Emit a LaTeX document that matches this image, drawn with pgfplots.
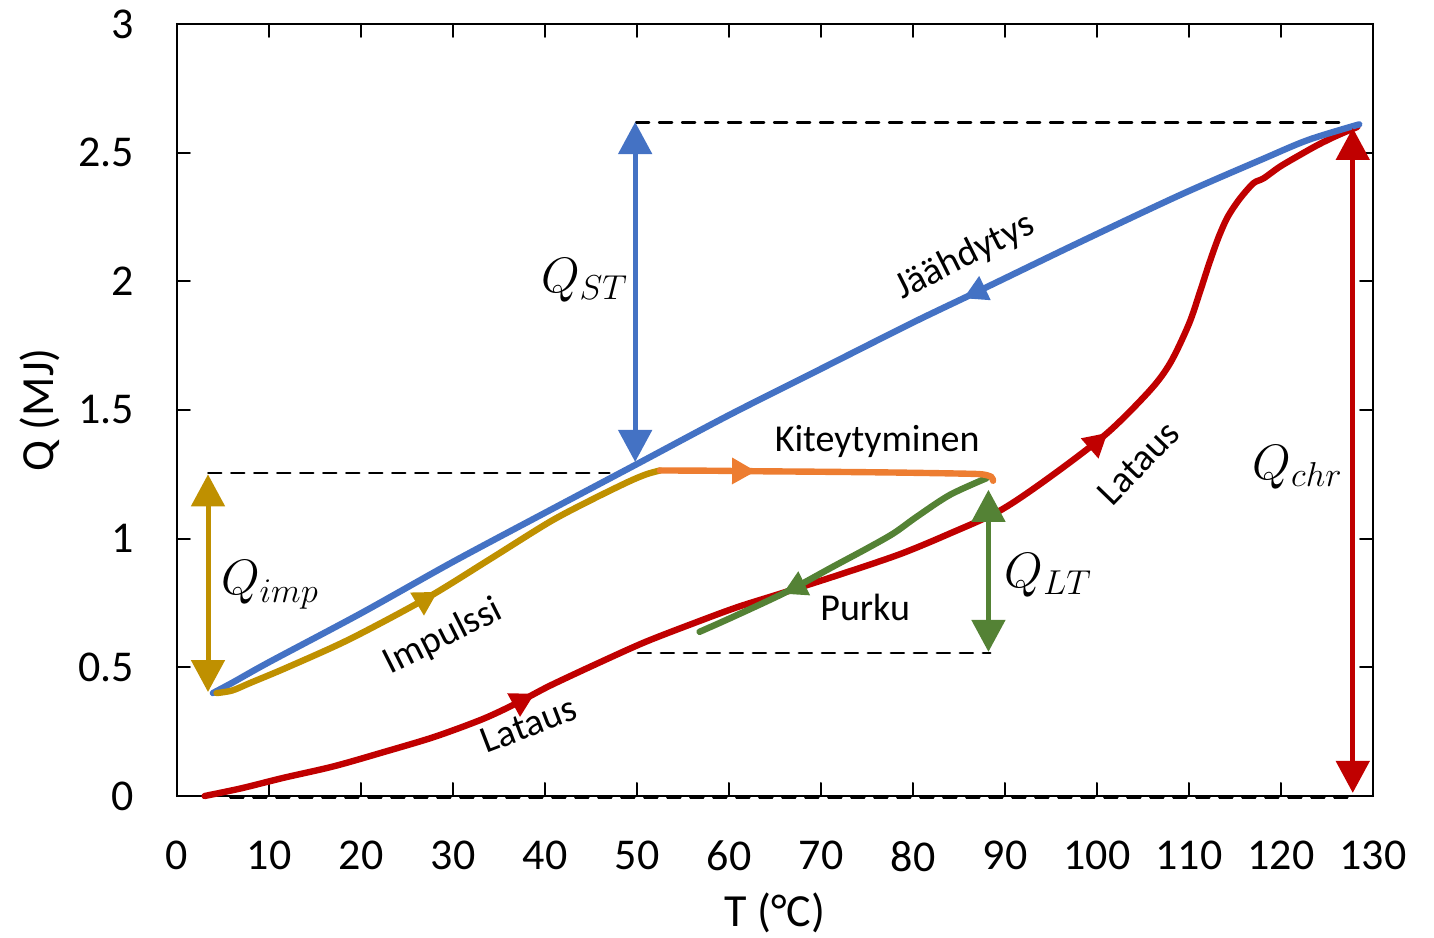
\documentclass[border=0pt]{standalone}
\usepackage{pgfplots}
\pgfplotsset{compat=1.18}
\usepackage{fontspec}
\setmainfont{Carlito}
\usetikzlibrary{arrows.meta,decorations.markings}
\definecolor{cblue}{HTML}{4472C4}
\definecolor{cred}{HTML}{C00000}
\definecolor{cgold}{HTML}{BF9000}
\definecolor{corange}{HTML}{ED7D31}
\definecolor{cgreen}{HTML}{548235}

\pgfplotstableread{
T Q
128.5 2.61
123 2.55
118 2.475
109 2.335
98 2.15
87 1.96
80 1.84
70 1.66
60 1.48
50 1.29
40.5 1.11
30 0.91
20 0.71
10 0.52
6 0.44
3.9 0.40
}\blue
\pgfplotstableread{
T Q
3 0
7 0.03
11.5 0.07
17 0.115
22.4 0.17
28 0.23
33.3 0.30
37 0.362
40.5 0.428
46 0.52
51 0.60
56.8 0.68
61 0.735
65.9 0.79
72 0.86
78.6 0.94
84 1.02
89.5 1.11
94.9 1.24
101.1 1.41
105.8 1.578
108 1.685
110 1.835
111.2 1.96
112.2 2.07
113.2 2.17
114.2 2.25
115.5 2.32
117.0 2.381
118.1 2.40
119.9 2.446
122 2.49
124 2.53
126 2.565
128.3 2.60
}\red
\pgfplotstableread{
T Q
4.3 0.40
6 0.41
8 0.44
12 0.50
18.8 0.61
27.2 0.77
34 0.92
40.5 1.065
45 1.15
49 1.22
51 1.25
52.5 1.265
}\gold
\pgfplotstableread{
T Q
52.5 1.265
58 1.264
63 1.262
70 1.260
78 1.257
85 1.253
87.5 1.250
88.5 1.240
88.7 1.225
}\orange
\pgfplotstableread{
T Q
88.0 1.235
84.0 1.170
80.4 1.085
77.9 1.021
75.0 0.962
71.3 0.891
66.3 0.794
60.5 0.697
56.8 0.638
}\green

\tikzset{
  sa/.tip={Triangle[width=12.5pt,length=12pt]},
  bt/.tip={Triangle[width=16.5pt,length=16pt]},
  bigtips/.style={line width=2.5pt, bt-bt},
  curve/.style={line width=3.2pt, smooth},
  annot/.style={font=\fontsize{19}{22}\selectfont, inner sep=0pt},
  qlab/.style={font=\fontsize{24}{28}\selectfont, inner sep=0pt},
  dashln/.style={black, line width=1.25pt, dash pattern=on 6.5pt off 5pt},
}

\begin{document}
\begin{tikzpicture}
\begin{axis}[
  scale only axis,
  width=598pt, height=386pt,
  xmin=0, xmax=130, ymin=0, ymax=3,
  xtick distance=10,
  ytick={0,0.5,1,1.5,2,2.5,3},
  tick pos=both,
  tick align=inside,
  major tick length=6.5pt,
  tick style={black, line width=1pt},
  axis line style={black, line width=1pt},
  clip=false,
  /pgf/number format/assume math mode=true,
  ticklabel style={font=\fontsize{22}{26}\selectfont},
  xticklabel style={yshift=-19pt},
  yticklabel style={xshift=-18pt},
  xlabel={T (°C)},
  ylabel={Q (MJ)},
  label style={font=\fontsize{23}{27}\selectfont},
  xlabel style={at={(axis description cs:0.5,0)}, anchor=center, yshift=-58.5pt},
  ylabel style={at={(axis description cs:0,0.5)}, anchor=center, rotate=0, yshift=68.5pt},
  line cap=round,
]
\path (rel axis cs:0,0) coordinate (ll);

% dashed guide lines
\addplot[dashln] coordinates {(49.9,2.617) (127.2,2.617)};
\addplot[dashln] coordinates {(3.4,1.255) (47,1.255)};
\addplot[dashln] coordinates {(50.1,0.556) (88.4,0.556)};
\addplot[dashln] coordinates {(5.8,-0.006) (127.8,-0.006)};

% curves
\addplot[cred, curve,
  postaction={decorate}, decoration={markings,
    mark=at position 0.249 with {\arrow{sa}},
    mark=at position 0.704 with {\arrow{sa}}}] table[x=T,y=Q] {\red};
\addplot[cgreen, curve,
  postaction={decorate}, decoration={markings,
    mark=at position 0.72 with {\arrow{sa}}}] table[x=T,y=Q] {\green};
\addplot[cblue, curve,
  postaction={decorate}, decoration={markings,
    mark=at position 0.338 with {\arrow{sa}}}] table[x=T,y=Q] {\blue};
\addplot[cgold, curve,
  postaction={decorate}, decoration={markings,
    mark=at position 0.49 with {\arrow{sa}}}] table[x=T,y=Q] {\gold};
\addplot[corange, curve,
  postaction={decorate}, decoration={markings,
    mark=at position 0.286 with {\arrow{sa}}}] table[x=T,y=Q] {\orange};

% double arrows
\addplot[cblue, bigtips] coordinates {(49.8,1.298) (49.8,2.619)};
\addplot[cgold, bigtips] coordinates {(3.37,0.404) (3.37,1.250)};
\addplot[cgreen, bigtips] coordinates {(88.2,0.560) (88.2,1.190)};
\addplot[cred, bigtips] coordinates {(127.8,0.012) (127.8,2.596)};

% labels
\node[annot, rotate=26.6] at (axis cs:85.65,2.095) {Jäähdytys};
\node[annot] at (axis cs:76.1,1.376) {Kiteytyminen};
\node[annot, rotate=26.6] at (axis cs:28.9,0.618) {Impulssi};
\node[annot] at (axis cs:74.8,0.734) {Purku};
\node[annot, rotate=21] at (axis cs:38.2,0.276) {Lataus};
\node[annot, rotate=46] at (axis cs:104.5,1.294) {Lataus};

\node[qlab] at (axis cs:44.3,2.005) {$Q_{ST}$};
\node[qlab] at (axis cs:10.1,0.82) {$Q_{imp}$};
\node[qlab] at (axis cs:94.7,0.859) {$Q_{LT}$};
\node[qlab] at (axis cs:121.8,1.279) {$Q_{chr}$};
\end{axis}
\pgfresetboundingbox
\path[use as bounding box] ([shift={(-88.5pt,-70.5pt)}]ll) rectangle ++(717pt,468.5pt);
\end{tikzpicture}
\end{document}
